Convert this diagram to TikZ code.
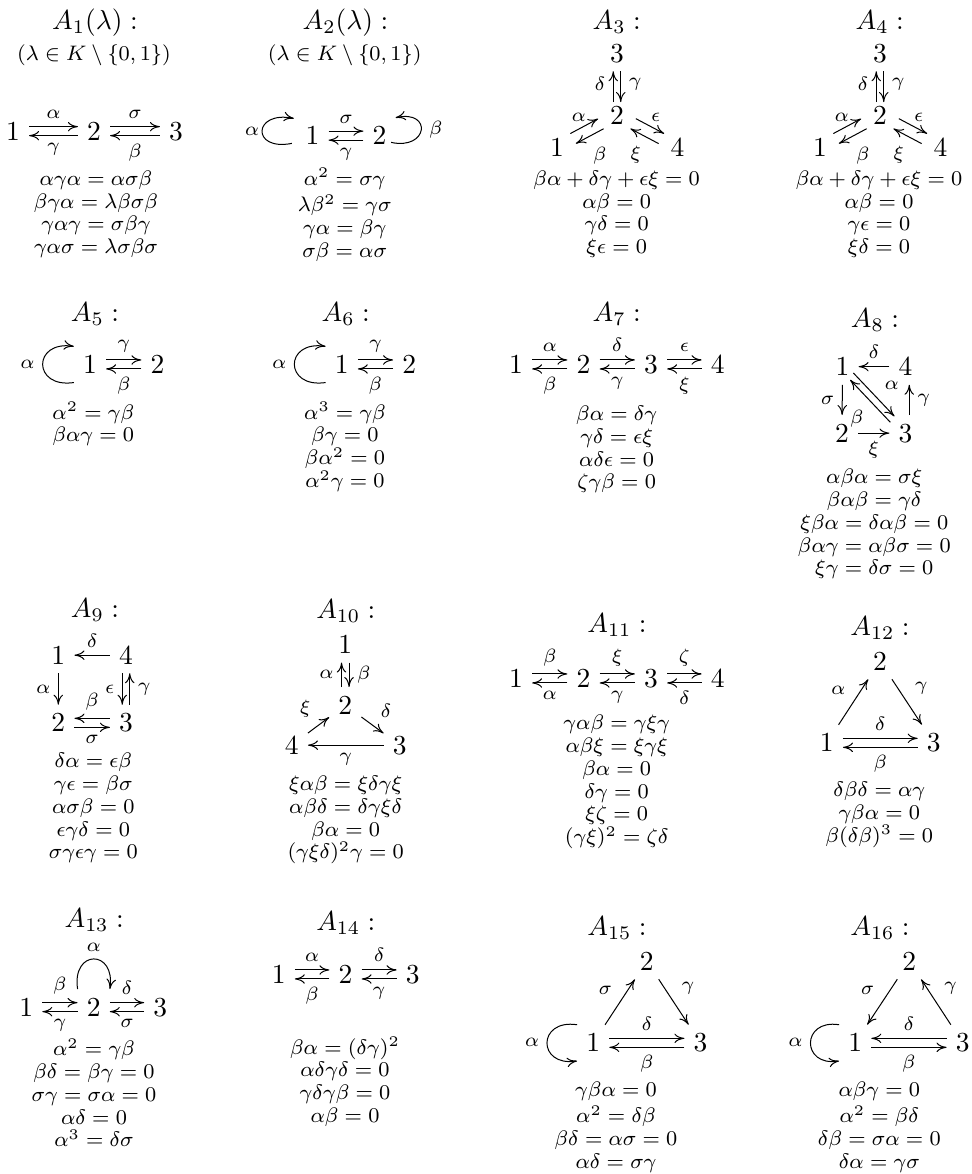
\RequirePackage{fix-cm}
\documentclass[tikz,border=0pt]{standalone}
\usepackage{amsmath}
\usetikzlibrary{arrows.meta}

\begin{document}
\begin{tikzpicture}[x=0.4pt, y=-0.4pt, thin,
    >={Computer Modern Rightarrow[length=4pt,width=3.8pt]},
    vtx/.style={anchor=base, inner sep=3.5pt, font=\fontsize{11}{13}\selectfont},
    ttl/.style={anchor=base, inner sep=0pt, font=\fontsize{11}{13}\selectfont},
    cond/.style={anchor=base, inner sep=0pt, font=\fontsize{8.4}{9.1}\selectfont},
    lbl/.style={inner sep=3pt, font=\fontsize{7.7}{9}\selectfont},
    rel/.style={anchor=north, inner sep=0pt, align=center, font=\fontsize{8.4}{9.1}\selectfont},
    hi/.style={transform canvas={yshift=1.8pt}},
    lo/.style={transform canvas={yshift=-1.8pt}},
    lf/.style={transform canvas={xshift=-1.5pt}},
    rt/.style={transform canvas={xshift=1.5pt}},
    sh/.style={transform canvas={shift={#1}}}]
  \useasboundingbox (0,0) rectangle (972,1174);

  % A_1
  \node[ttl] (t1) at (95,29) {$A_1(\lambda) :$};
  \node[cond] (c1) at (94,60) {$(\lambda\in K\setminus\{0,1\})$};
  \node[vtx] (v1-1) at (13,140) {$1$};
  \node[vtx] (v1-2) at (94,140) {$2$};
  \node[vtx] (v1-3) at (176,140) {$3$};
  \draw[->, hi] (v1-1) -- (v1-2) node[lbl, midway, above] {$\alpha$};
  \draw[->, lo] (v1-2) -- (v1-1) node[lbl, midway, below] {$\gamma$};
  \draw[->, hi] (v1-2) -- (v1-3) node[lbl, midway, above] {$\sigma$};
  \draw[->, lo] (v1-3) -- (v1-2) node[lbl, midway, below] {$\beta$};
  \node[rel] (r1) at (96,169) {\strut$\alpha\gamma\alpha=\alpha\sigma\beta$\\ $\beta\gamma\alpha=\lambda\beta\sigma\beta$\\
    $\gamma\alpha\gamma=\sigma\beta\gamma$\\ $\gamma\alpha\sigma=\lambda\sigma\beta\sigma$};

  % A_2
  \node[ttl] (t2) at (345.5,29) {$A_2(\lambda) :$};
  \node[cond] (c2) at (344.7,60) {$(\lambda\in K\setminus\{0,1\})$};
  \node[vtx] (v2-1) at (312.5,144.5) {$1$};
  \node[vtx] (v2-2) at (379.5,144.5) {$2$};
  \draw[->, hi] (v2-1) -- (v2-2) node[lbl, midway, above] {$\sigma$};
  \draw[->, lo] (v2-2) -- (v2-1) node[lbl, midway, below] {$\gamma$};
  \draw[->] ([shift={(-1.8pt,-3.1pt)}]v2-1.west) .. controls +(-41,8) and +(-41,-8) .. ([shift={(-1pt,6.9pt)}]v2-1.west)
    node[lbl, pos=.5, left, inner sep=1pt] {$\alpha$};
  \draw[->] ([shift={(-1.8pt,-2.7pt)}]v2-2.east) .. controls +(37,8) and +(37,-8) .. ([shift={(0pt,7.2pt)}]v2-2.east)
    node[lbl, pos=.5, right] {$\beta$};
  \node[rel] (r2) at (344.7,168) {\strut$\alpha^2=\sigma\gamma$\\ $\lambda\beta^2=\gamma\sigma$\\
    $\gamma\alpha=\beta\gamma$\\ $\sigma\beta=\alpha\sigma$};

  % A_3
  \node[ttl] (t3) at (616.8,29) {$A_3 :$};
  \node[vtx] (v3-3) at (617,62) {$3$};
  \node[vtx] (v3-2) at (617,124) {$2$};
  \node[vtx] (v3-1) at (557,156) {$1$};
  \node[vtx] (v3-4) at (677.5,156) {$4$};
  \draw[->, lf, shorten <=-2pt] (v3-2) -- (v3-3) node[lbl, midway, left] {$\delta$};
  \draw[->, rt, shorten >=-2pt] (v3-3) -- (v3-2) node[lbl, midway, right] {$\gamma$};
  \draw[->, sh={(-1.1pt,2pt)}] (v3-1) -- (v3-2) node[lbl, pos=.3, above] {$\alpha$};
  \draw[->, sh={(1.1pt,-2pt)}] (v3-2) -- (v3-1) node[lbl, pos=.67, below right] {$\beta$};
  \draw[->, sh={(1.1pt,2pt)}] (v3-2) -- (v3-4) node[lbl, pos=.7, above] {$\epsilon$};
  \draw[->, sh={(-1.1pt,-2pt)}] (v3-4) -- (v3-2) node[lbl, pos=.34, below left] {$\xi$};
  \node[rel] (r3) at (616.7,169) {\strut$\beta\alpha+\delta\gamma+\epsilon\xi=0$\\ $\alpha\beta=0$\\
    $\gamma\delta=0$\\ $\xi\epsilon=0$};

  % A_4
  \node[ttl] (t4) at (879.8,29) {$A_4 :$};
  \node[vtx] (v4-3) at (880,62) {$3$};
  \node[vtx] (v4-2) at (880,124) {$2$};
  \node[vtx] (v4-1) at (820,156) {$1$};
  \node[vtx] (v4-4) at (940.5,156) {$4$};
  \draw[->, lf, shorten <=-2pt] (v4-2) -- (v4-3) node[lbl, midway, left] {$\delta$};
  \draw[->, rt, shorten >=-2pt] (v4-3) -- (v4-2) node[lbl, midway, right] {$\gamma$};
  \draw[->, sh={(-1.1pt,2pt)}] (v4-1) -- (v4-2) node[lbl, pos=.3, above] {$\alpha$};
  \draw[->, sh={(1.1pt,-2pt)}] (v4-2) -- (v4-1) node[lbl, pos=.67, below right] {$\beta$};
  \draw[->, sh={(1.1pt,2pt)}] (v4-2) -- (v4-4) node[lbl, pos=.7, above] {$\epsilon$};
  \draw[->, sh={(-1.1pt,-2pt)}] (v4-4) -- (v4-2) node[lbl, pos=.34, below left] {$\xi$};
  \node[rel] (r4) at (879,169) {\strut$\beta\alpha+\delta\gamma+\epsilon\xi=0$\\ $\alpha\beta=0$\\
    $\gamma\epsilon=0$\\ $\xi\delta=0$};

  % A_5
  \node[ttl] (t5) at (95,321.7) {$A_5 :$};
  \node[vtx] (v5-1) at (90,373.3) {$1$};
  \node[vtx] (v5-2) at (157.5,373.3) {$2$};
  \draw[->, hi] (v5-1) -- (v5-2) node[lbl, midway, above] {$\gamma$};
  \draw[->, lo] (v5-2) -- (v5-1) node[lbl, midway, below] {$\beta$};
  \draw[->] (v5-1.south west) .. controls +(-41.5,6) and +(-41.5,-6) .. (v5-1.north west)
    node[lbl, pos=.5, left] {$\alpha$};
  \node[rel] (r5) at (93.3,401.8) {\strut$\alpha^2=\gamma\beta$\\ $\beta\alpha\gamma=0$};

  % A_6
  \node[ttl] (t6) at (345.8,321.7) {$A_6 :$};
  \node[vtx] (v6-1) at (341.7,373.3) {$1$};
  \node[vtx] (v6-2) at (409.2,373.3) {$2$};
  \draw[->, hi] (v6-1) -- (v6-2) node[lbl, midway, above] {$\gamma$};
  \draw[->, lo] (v6-2) -- (v6-1) node[lbl, midway, below] {$\beta$};
  \draw[->] (v6-1.south west) .. controls +(-41.5,6) and +(-41.5,-6) .. (v6-1.north west)
    node[lbl, pos=.5, left] {$\alpha$};
  \node[rel] (r6) at (345,401.8) {\strut$\alpha^3=\gamma\beta$\\ $\beta\gamma=0$\\
    $\beta\alpha^2=0$\\ $\alpha^2\gamma=0$};

  % A_7
  \node[ttl] (t7) at (616.8,321.7) {$A_7 :$};
  \node[vtx] (v7-1) at (516,373.3) {$1$};
  \node[vtx] (v7-2) at (583.5,373.3) {$2$};
  \node[vtx] (v7-3) at (651,373.3) {$3$};
  \node[vtx] (v7-4) at (717.7,373.3) {$4$};
  \draw[->, hi] (v7-1) -- (v7-2) node[lbl, midway, above] {$\alpha$};
  \draw[->, lo] (v7-2) -- (v7-1) node[lbl, midway, below] {$\beta$};
  \draw[->, hi] (v7-2) -- (v7-3) node[lbl, midway, above] {$\delta$};
  \draw[->, lo] (v7-3) -- (v7-2) node[lbl, midway, below] {$\gamma$};
  \draw[->, hi] (v7-3) -- (v7-4) node[lbl, midway, above] {$\epsilon$};
  \draw[->, lo] (v7-4) -- (v7-3) node[lbl, midway, below] {$\xi$};
  \node[rel] (r7) at (616.7,404.1) {\strut$\beta\alpha=\delta\gamma$\\ $\gamma\delta=\epsilon\xi$\\
    $\alpha\delta\epsilon=0$\\ $\zeta\gamma\beta=0$};

  % A_8
  \node[ttl] (t8) at (875,327.3) {$A_8 :$};
  \node[vtx] (v8-1) at (842.5,375.5) {$1$};
  \node[vtx] (v8-4) at (905.5,375.5) {$4$};
  \node[vtx] (v8-2) at (842,442) {$2$};
  \node[vtx] (v8-3) at (905.5,442) {$3$};
  \draw[->] (v8-4) -- (v8-1) node[lbl, midway, above] {$\delta$};
  \draw[->] (v8-1) -- (v8-2) node[lbl, midway, left] {$\sigma$};
  \draw[->, rt] (v8-3) -- (v8-4) node[lbl, midway, right] {$\gamma$};
  \draw[->] (v8-2) -- (v8-3) node[lbl, midway, below] {$\xi$};
  \draw[->, sh={(1pt,1pt)}, shorten <=-4.5pt, shorten >=-1.5pt] (v8-1) -- (v8-3)
    node[lbl, midway, above right] {$\alpha$};
  \draw[->, sh={(-1pt,-1pt)}, shorten <=-2pt, shorten >=-3.5pt] (v8-3) -- (v8-1)
    node[lbl, midway, below left] {$\beta$};
  \node[rel] (r8) at (874.3,467.4) {\strut$\alpha\beta\alpha=\sigma\xi$\\ $\beta\alpha\beta=\gamma\delta$\\
    $\xi\beta\alpha=\delta\alpha\beta=0$\\ $\beta\alpha\gamma=\alpha\beta\sigma=0$\\ $\xi\gamma=\delta\sigma=0$};

  % A_9
  \node[ttl] (t9) at (95,617.3) {$A_9 :$};
  \node[vtx] (v9-1) at (58.3,664) {$1$};
  \node[vtx] (v9-4) at (126,664) {$4$};
  \node[vtx] (v9-2) at (58.3,731.7) {$2$};
  \node[vtx] (v9-3) at (126,731.7) {$3$};
  \draw[->] (v9-4) -- (v9-1) node[lbl, midway, above] {$\delta$};
  \draw[->] (v9-1) -- (v9-2) node[lbl, midway, left] {$\alpha$};
  \draw[->, lf] (v9-4) -- (v9-3) node[lbl, midway, left] {$\epsilon$};
  \draw[->, rt] (v9-3) -- (v9-4) node[lbl, midway, right] {$\gamma$};
  \draw[->, hi] (v9-3) -- (v9-2) node[lbl, midway, above] {$\beta$};
  \draw[->, lo] (v9-2) -- (v9-3) node[lbl, midway, below] {$\sigma$};
  \node[rel] (r9) at (93.3,751.4) {\strut$\delta\alpha=\epsilon\beta$\\ $\gamma\epsilon=\beta\sigma$\\
    $\alpha\sigma\beta=0$\\ $\epsilon\gamma\delta=0$\\ $\sigma\gamma\epsilon\gamma=0$};

  % A_10
  \node[ttl] (t10) at (345.8,618.3) {$A_{10} :$};
  \node[vtx] (v10-1) at (345.3,653.3) {$1$};
  \node[vtx] (v10-2) at (345.3,714) {$2$};
  \node[vtx] (v10-4) at (291.8,754) {$4$};
  \node[vtx] (v10-3) at (399.7,754) {$3$};
  \draw[->, lf] (v10-2) -- (v10-1) node[lbl, midway, left] {$\alpha$};
  \draw[->, rt] (v10-1) -- (v10-2) node[lbl, midway, right] {$\beta$};
  \draw[->] (v10-4) -- (v10-2) node[lbl, midway, above left] {$\xi$};
  \draw[->] (v10-2) -- (v10-3) node[lbl, midway, above right] {$\delta$};
  \draw[->] (v10-3) -- (v10-4) node[lbl, midway, below] {$\gamma$};
  \node[rel] (r10) at (345.7,774.1) {\strut$\xi\alpha\beta=\xi\delta\gamma\xi$\\ $\alpha\beta\delta=\delta\gamma\xi\delta$\\
    $\beta\alpha=0$\\ $(\gamma\xi\delta)^2\gamma=0$};

  % A_11
  \node[ttl] (t11) at (617,632.7) {$A_{11} :$};
  \node[vtx] (v11-1) at (516,687.3) {$1$};
  \node[vtx] (v11-2) at (583.5,687.3) {$2$};
  \node[vtx] (v11-3) at (651,687.3) {$3$};
  \node[vtx] (v11-4) at (717.7,687.3) {$4$};
  \draw[->, hi] (v11-1) -- (v11-2) node[lbl, midway, above] {$\beta$};
  \draw[->, lo] (v11-2) -- (v11-1) node[lbl, midway, below] {$\alpha$};
  \draw[->, hi] (v11-2) -- (v11-3) node[lbl, midway, above] {$\xi$};
  \draw[->, lo] (v11-3) -- (v11-2) node[lbl, midway, below] {$\gamma$};
  \draw[->, hi] (v11-3) -- (v11-4) node[lbl, midway, above] {$\zeta$};
  \draw[->, lo] (v11-4) -- (v11-3) node[lbl, midway, below] {$\delta$};
  \node[rel] (r11) at (616.7,713.4) {\strut$\gamma\alpha\beta=\gamma\xi\gamma$\\ $\alpha\beta\xi=\xi\gamma\xi$\\
    $\beta\alpha=0$\\ $\delta\gamma=0$\\ $\xi\zeta=0$\\ $(\gamma\xi)^2=\zeta\delta$};

  % A_12
  \node[ttl] (t12) at (880,635) {$A_{12} :$};
  \node[vtx] (v12-2) at (880,670) {$2$};
  \node[vtx] (v12-1) at (826.8,751.7) {$1$};
  \node[vtx] (v12-3) at (933.8,751.7) {$3$};
  \draw[->] (v12-1) -- (v12-2) node[lbl, midway, above left] {$\alpha$};
  \draw[->] (v12-2) -- (v12-3) node[lbl, midway, above right] {$\gamma$};
  \draw[->, hi] (v12-1) -- (v12-3) node[lbl, midway, above] {$\delta$};
  \draw[->, lo] (v12-3) -- (v12-1) node[lbl, midway, below] {$\beta$};
  \node[rel] (r12) at (879.3,780.1) {\strut$\delta\beta\delta=\alpha\gamma$\\ $\gamma\beta\alpha=0$\\
    $\beta(\delta\beta)^3=0$};

  % A_13
  \node[ttl] (t13) at (94.2,927.3) {$A_{13} :$};
  \node[vtx] (v13-1) at (26.2,1016) {$1$};
  \node[vtx] (v13-2) at (93.7,1016) {$2$};
  \node[vtx] (v13-3) at (160.3,1016) {$3$};
  \draw[->, hi] (v13-1) -- (v13-2) node[lbl, midway, above] {$\beta$};
  \draw[->, lo] (v13-2) -- (v13-1) node[lbl, midway, below] {$\gamma$};
  \draw[->, hi] (v13-2) -- (v13-3) node[lbl, midway, above] {$\delta$};
  \draw[->, lo] (v13-3) -- (v13-2) node[lbl, midway, below] {$\sigma$};
  \draw[->] (v13-2.north west) .. controls +(-6,-40) and +(6,-40) .. (v13-2.north east)
    node[lbl, pos=.5, above] {$\alpha$};
  \node[rel] (r13) at (94,1038.4) {\strut$\alpha^2=\gamma\beta$\\ $\beta\delta=\beta\gamma=0$\\
    $\sigma\gamma=\sigma\alpha=0$\\ $\alpha\delta=0$\\ $\alpha^3=\delta\sigma$};

  % A_14
  \node[ttl] (t14) at (345.8,930.7) {$A_{14} :$};
  \node[vtx] (v14-1) at (278.7,983.3) {$1$};
  \node[vtx] (v14-2) at (345.5,983.3) {$2$};
  \node[vtx] (v14-3) at (412.7,983.3) {$3$};
  \draw[->, hi] (v14-1) -- (v14-2) node[lbl, midway, above] {$\alpha$};
  \draw[->, lo] (v14-2) -- (v14-1) node[lbl, midway, below] {$\beta$};
  \draw[->, hi] (v14-2) -- (v14-3) node[lbl, midway, above] {$\delta$};
  \draw[->, lo] (v14-3) -- (v14-2) node[lbl, midway, below] {$\gamma$};
  \node[rel] (r14) at (345,1036.8) {\strut$\beta\alpha=(\delta\gamma)^2$\\ $\alpha\delta\gamma\delta=0$\\
    $\gamma\delta\gamma\beta=0$\\ $\alpha\beta=0$};

  % A_15
  \node[ttl] (t15) at (617,935) {$A_{15} :$};
  \node[vtx] (v15-2) at (646.8,970) {$2$};
  \node[vtx] (v15-1) at (593.2,1051.7) {$1$};
  \node[vtx] (v15-3) at (700.5,1051.7) {$3$};
  \draw[->] (v15-1) -- (v15-2) node[lbl, midway, above left] {$\sigma$};
  \draw[->] (v15-2) -- (v15-3) node[lbl, midway, above right] {$\gamma$};
  \draw[->, hi] (v15-1) -- (v15-3) node[lbl, midway, above] {$\delta$};
  \draw[->, lo] (v15-3) -- (v15-1) node[lbl, midway, below] {$\beta$};
  \draw[->] (v15-1.north west) .. controls +(-40,-6) and +(-40,6) .. (v15-1.south west)
    node[lbl, pos=.5, left] {$\alpha$};
  \node[rel] (r15) at (616,1080.1) {\strut$\gamma\beta\alpha=0$\\ $\alpha^2=\delta\beta$\\
    $\beta\delta=\alpha\sigma=0$\\ $\alpha\delta=\sigma\gamma$};

  % A_16
  \node[ttl] (t16) at (880,935) {$A_{16} :$};
  \node[vtx] (v16-2) at (909.3,970) {$2$};
  \node[vtx] (v16-1) at (855.2,1051.7) {$1$};
  \node[vtx] (v16-3) at (962.7,1051.7) {$3$};
  \draw[->] (v16-2) -- (v16-1) node[lbl, midway, above left] {$\sigma$};
  \draw[->] (v16-3) -- (v16-2) node[lbl, midway, above right] {$\gamma$};
  \draw[->, hi] (v16-3) -- (v16-1) node[lbl, midway, above] {$\delta$};
  \draw[->, lo] (v16-1) -- (v16-3) node[lbl, midway, below] {$\beta$};
  \draw[->] (v16-1.north west) .. controls +(-38,-6) and +(-38,6) .. (v16-1.south west)
    node[lbl, pos=.5, left] {$\alpha$};
  \node[rel] (r16) at (879.3,1080.1) {\strut$\alpha\beta\gamma=0$\\ $\alpha^2=\beta\delta$\\
    $\delta\beta=\sigma\alpha=0$\\ $\delta\alpha=\gamma\sigma$};
\end{tikzpicture}
\end{document}
